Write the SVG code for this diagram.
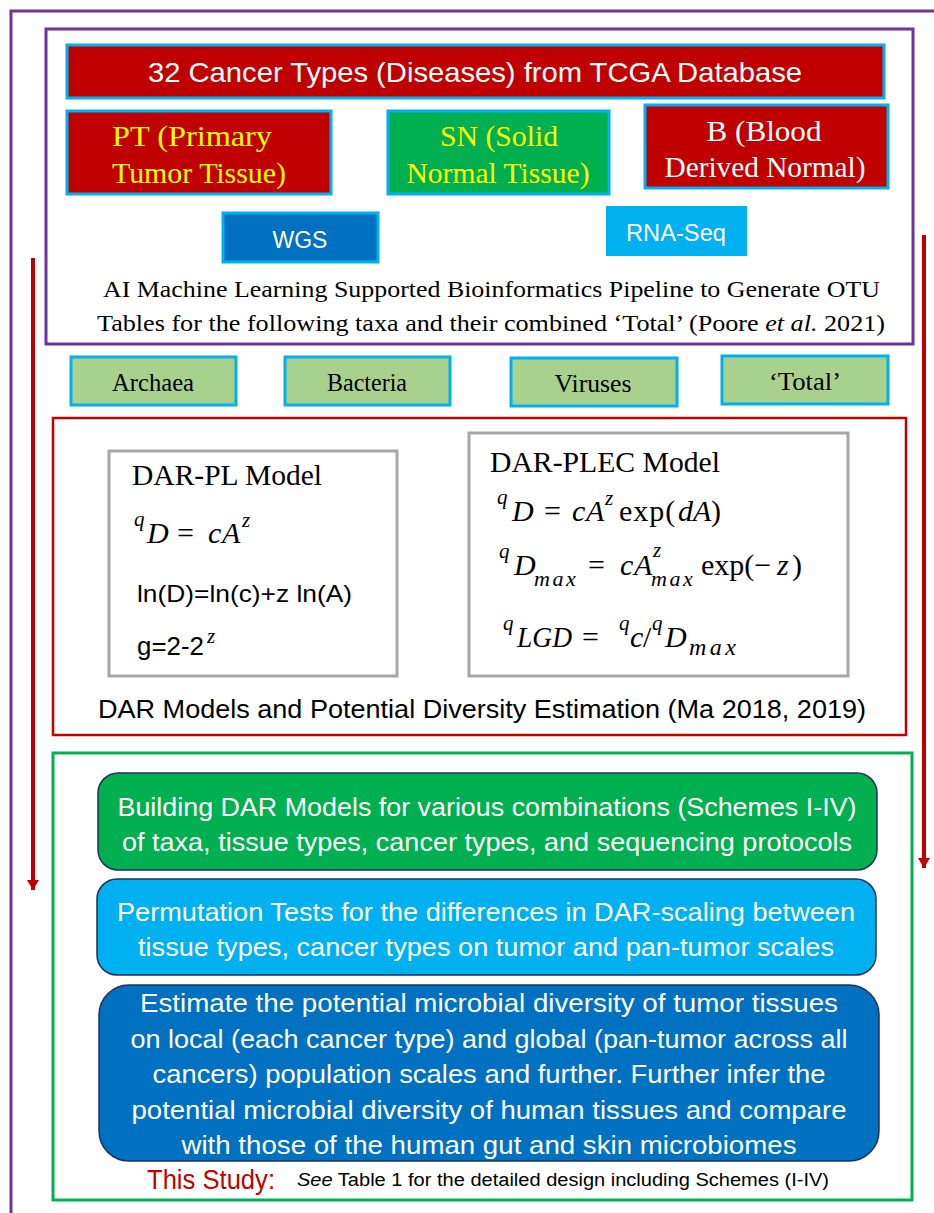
<svg xmlns="http://www.w3.org/2000/svg" width="934" height="1213" viewBox="0 0 934 1213">
<defs>
<style>
.cal{font-family:"Liberation Sans","Open Sans",sans-serif}
.tms{font-family:"Liberation Serif","DejaVu Serif",serif}
.math{font-family:"Liberation Serif","DejaVu Serif",serif;font-style:italic}
.up{font-style:normal}
.red{fill:#C00000;stroke:#00B0F0;stroke-width:3}
.grn{fill:#00B050;stroke:#00B0F0;stroke-width:3}
.taxa{fill:#A9D18E;stroke:#00B0F0;stroke-width:3}
.gray{fill:#fff;stroke:#A6A6A6;stroke-width:3}
.rbox{stroke:#1F3256;stroke-width:1.5}
.wt{fill:#fff}
.yt{fill:#FFFF00}
</style>
<marker id="ah" viewBox="0 0 10 10" refX="10" refY="5" markerWidth="2.5" markerHeight="3" orient="auto" markerUnits="strokeWidth" preserveAspectRatio="none">
<path d="M0,0 L10,5 L0,10 Z" fill="#C00000"/>
</marker>
</defs>
<rect width="934" height="1213" fill="#fff"/>
<g id="frame">
<path d="M11,1213 V11 H934" fill="none" stroke="#7030A0" stroke-width="3"/>
</g>
<g id="connectors">
<line x1="33" y1="258" x2="33" y2="890" stroke="#C00000" stroke-width="4" marker-end="url(#ah)"/>
<line x1="924" y1="235" x2="924" y2="868" stroke="#C00000" stroke-width="4" marker-end="url(#ah)"/>
</g>
<g id="data-box">
<rect x="46" y="29" width="867" height="315" fill="none" stroke="#7030A0" stroke-width="3"/>
</g>
<g id="tcga">
<rect class="red" x="67" y="45" width="817" height="53"/>
<text class="cal wt" x="475" y="82" font-size="28" text-anchor="middle" textLength="654" lengthAdjust="spacingAndGlyphs">32 Cancer Types (Diseases) from TCGA Database</text>
</g>
<g id="pt">
<rect class="red" x="67" y="111" width="264" height="83"/>
<text class="tms yt" font-size="30" text-anchor="middle"><tspan x="192" y="146" textLength="160" lengthAdjust="spacingAndGlyphs">PT (Primary</tspan><tspan x="199" y="183" textLength="174" lengthAdjust="spacingAndGlyphs">Tumor Tissue)</tspan></text>
</g>
<g id="sn">
<rect class="grn" x="388" y="111" width="221" height="83"/>
<text class="tms yt" font-size="30" text-anchor="middle"><tspan x="499" y="146" textLength="118" lengthAdjust="spacingAndGlyphs">SN (Solid</tspan><tspan x="498" y="183" textLength="183" lengthAdjust="spacingAndGlyphs">Normal Tissue)</tspan></text>
</g>
<g id="b">
<rect class="red" x="645" y="105" width="243" height="83"/>
<text class="tms wt" font-size="30" text-anchor="middle"><tspan x="764" y="141" textLength="115" lengthAdjust="spacingAndGlyphs">B (Blood</tspan><tspan x="765" y="177" textLength="201" lengthAdjust="spacingAndGlyphs">Derived Normal)</tspan></text>
</g>
<g id="wgs">
<rect x="223" y="213" width="155" height="49" fill="#0070C0" stroke="#00B0F0" stroke-width="3"/>
<text class="cal wt" x="300" y="248" font-size="23" text-anchor="middle">WGS</text>
</g>
<g id="rnaseq">
<rect x="606" y="206" width="141" height="50" fill="#00B0F0"/>
<text class="cal wt" x="676" y="241" font-size="23" text-anchor="middle" textLength="100" lengthAdjust="spacingAndGlyphs">RNA-Seq</text>
</g>
<g id="pipeline-text">
<text class="tms" font-size="24" fill="#000"><tspan x="103" y="297" textLength="777" lengthAdjust="spacingAndGlyphs">AI Machine Learning Supported Bioinformatics Pipeline to Generate OTU</tspan><tspan x="97" y="331" textLength="788" lengthAdjust="spacingAndGlyphs">Tables for the following taxa and their combined ‘Total’ (Poore <tspan font-style="italic">et al.</tspan> 2021)</tspan></text>
</g>
<g id="archaea">
<rect class="taxa" x="71" y="357" width="165" height="48"/>
<text class="tms" x="153" y="391" font-size="26" text-anchor="middle" textLength="82" lengthAdjust="spacingAndGlyphs">Archaea</text>
</g>
<g id="bacteria">
<rect class="taxa" x="285" y="357" width="165" height="48"/>
<text class="tms" x="367" y="391" font-size="26" text-anchor="middle" textLength="80" lengthAdjust="spacingAndGlyphs">Bacteria</text>
</g>
<g id="viruses">
<rect class="taxa" x="511" y="358" width="166" height="48"/>
<text class="tms" x="593" y="392" font-size="26" text-anchor="middle" textLength="77" lengthAdjust="spacingAndGlyphs">Viruses</text>
</g>
<g id="total">
<rect class="taxa" x="722" y="356" width="166" height="48"/>
<text class="tms" x="805" y="390" font-size="26" text-anchor="middle" textLength="72" lengthAdjust="spacingAndGlyphs">‘Total’</text>
</g>
<g id="dar-box">
<rect x="53" y="418" width="853" height="317" fill="none" stroke="#C00000" stroke-width="2.5"/>
<text class="cal" x="482" y="718" font-size="25" text-anchor="middle" textLength="768" lengthAdjust="spacingAndGlyphs">DAR Models and Potential Diversity Estimation (Ma 2018, 2019)</text>
</g>
<g id="dar-pl">
<rect class="gray" x="109" y="451" width="288" height="225"/>
<text class="tms" x="132" y="485" font-size="29" textLength="190" lengthAdjust="spacingAndGlyphs">DAR-PL Model</text>
<text class="math" font-size="30"><tspan x="134" y="526" font-size="21">q</tspan><tspan x="147" y="543">D</tspan><tspan class="up" x="177" y="543">=</tspan><tspan x="208" y="543">c</tspan><tspan x="222" y="543">A</tspan><tspan x="242" y="527" font-size="21">z</tspan></text>
<text class="cal" x="137" y="602" font-size="24" textLength="215" lengthAdjust="spacingAndGlyphs">ln(D)=ln(c)+z ln(A)</text>
<text class="cal" x="137" y="655" font-size="25" textLength="67" lengthAdjust="spacingAndGlyphs">g=2-2</text>
<text class="math" x="207" y="643" font-size="21">z</text>
</g>
<g id="dar-plec">
<rect class="gray" x="469" y="433" width="379" height="243"/>
<text class="tms" x="490" y="472" font-size="29" textLength="230" lengthAdjust="spacingAndGlyphs">DAR-PLEC Model</text>
<text class="math" font-size="30"><tspan x="497" y="504" font-size="21">q</tspan><tspan x="512" y="521">D</tspan><tspan class="up" x="544" y="521">=</tspan><tspan x="572" y="521">c</tspan><tspan x="586" y="521">A</tspan><tspan x="605" y="505" font-size="21">z</tspan><tspan class="up" x="619" y="521" letter-spacing="1">exp(</tspan><tspan x="678" y="521">dA</tspan><tspan class="up" x="711" y="521">)</tspan></text>
<text class="math" font-size="30"><tspan x="499" y="558" font-size="21">q</tspan><tspan x="514" y="575">D</tspan><tspan x="534" y="586" font-size="22" letter-spacing="2.5">max</tspan><tspan class="up" x="588" y="575">=</tspan><tspan x="620" y="575">c</tspan><tspan x="634" y="575">A</tspan><tspan x="653" y="557" font-size="21">z</tspan><tspan x="651" y="586" font-size="22" letter-spacing="2.5">max</tspan><tspan class="up" x="701" y="575">exp(−</tspan><tspan x="777" y="575">z</tspan><tspan class="up" x="792" y="575">)</tspan></text>
<text class="math" font-size="30"><tspan x="503" y="630" font-size="21">q</tspan><tspan x="517" y="647" textLength="55" lengthAdjust="spacingAndGlyphs">LGD</tspan><tspan class="up" x="582" y="647">=</tspan><tspan x="619" y="630" font-size="21">q</tspan><tspan x="630" y="647">c</tspan><tspan class="up" x="643" y="647">/</tspan><tspan x="652" y="630" font-size="21">q</tspan><tspan x="665" y="647">D</tspan><tspan x="689" y="655" font-size="24" letter-spacing="3.5">max</tspan></text>
</g>
<g id="study-box">
<rect x="53" y="753" width="859" height="447" fill="none" stroke="#00B050" stroke-width="3"/>
</g>
<g id="building">
<rect class="rbox" x="98" y="773" width="779" height="97" rx="20" fill="#00B050"/>
<text class="cal wt" font-size="26" text-anchor="middle"><tspan x="487" y="816" textLength="739" lengthAdjust="spacingAndGlyphs">Building DAR Models for various combinations (Schemes I-IV)</tspan><tspan x="487" y="851" textLength="730" lengthAdjust="spacingAndGlyphs">of taxa, tissue types, cancer types, and sequencing protocols</tspan></text>
</g>
<g id="permutation">
<rect class="rbox" x="97" y="879" width="779" height="96" rx="20" fill="#00B0F0"/>
<text class="cal wt" font-size="26" text-anchor="middle"><tspan x="486" y="921" textLength="738" lengthAdjust="spacingAndGlyphs">Permutation Tests for the differences in DAR-scaling between</tspan><tspan x="486" y="956" textLength="696" lengthAdjust="spacingAndGlyphs">tissue types, cancer types on tumor and pan-tumor scales</tspan></text>
</g>
<g id="estimate">
<rect class="rbox" x="99" y="985" width="780" height="176" rx="30" fill="#0070C0"/>
<text class="cal wt" font-size="26" text-anchor="middle"><tspan x="489" y="1012" textLength="698" lengthAdjust="spacingAndGlyphs">Estimate the potential microbial diversity of tumor tissues</tspan><tspan x="489" y="1048" textLength="717" lengthAdjust="spacingAndGlyphs">on local (each cancer type) and global (pan-tumor across all</tspan><tspan x="489" y="1083" textLength="673" lengthAdjust="spacingAndGlyphs">cancers) population scales and further. Further infer the</tspan><tspan x="489" y="1119" textLength="715" lengthAdjust="spacingAndGlyphs">potential microbial diversity of human tissues and compare</tspan><tspan x="489" y="1154" textLength="615" lengthAdjust="spacingAndGlyphs">with those of the human gut and skin microbiomes</tspan></text>
</g>
<g id="footer">
<text class="cal" x="147" y="1189" font-size="27" fill="#C00000" textLength="128" lengthAdjust="spacingAndGlyphs">This Study:</text>
<text class="cal" x="297" y="1186" font-size="18" fill="#000" textLength="532" lengthAdjust="spacingAndGlyphs"><tspan font-style="italic">See</tspan> Table 1 for the detailed design including Schemes (I-IV)</text>
</g>
</svg>
